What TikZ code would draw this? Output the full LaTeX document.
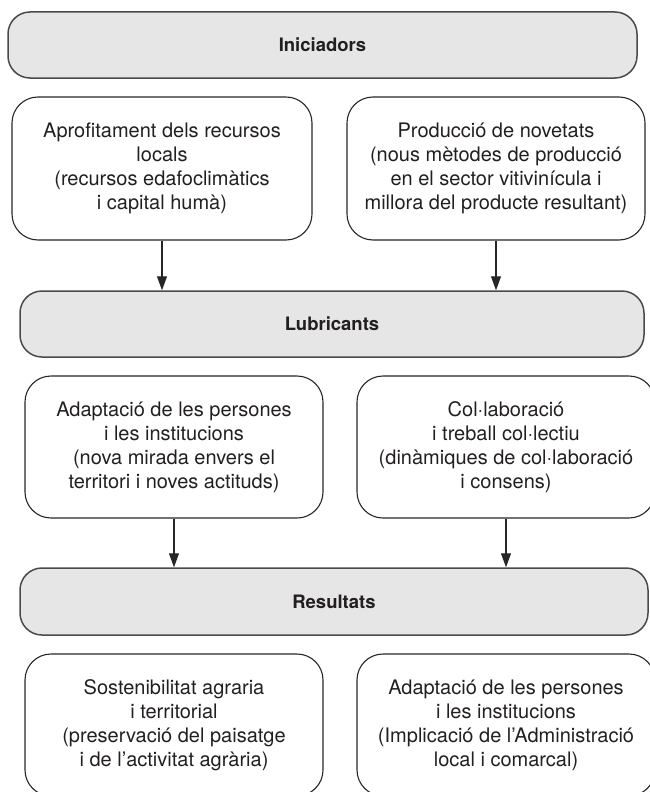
\documentclass[tikz,border=0pt]{standalone}
\usepackage{fontspec}
\setmainfont{TeX Gyre Heros}
\usetikzlibrary{arrows.meta}
\definecolor{headfill}{HTML}{E6E6E6}
\definecolor{headedge}{HTML}{4A4A4A}
\definecolor{textink}{HTML}{231F20}

\begin{document}
\begin{tikzpicture}[x=1pt,y=-1pt,
    header/.style={draw=headedge, line width=1.5pt, fill=headfill, rounded corners=22pt,
        minimum height=66pt, inner sep=0pt, text=textink,
        font=\fontsize{18.5}{22}\selectfont\bfseries},
    itembox/.style={draw=black!85, line width=1.1pt, rounded corners=26pt,
        minimum width=298pt, minimum height=143pt, inner sep=0pt, align=center,
        text=textink, font=\fontsize{20}{24}\selectfont},
    flow/.style={draw=black!85, line width=1.1pt, -{Triangle[length=14pt,width=10pt]}}]
    \useasboundingbox (0,0) rectangle (650,792);
    % Iniciadors
    \node[header, minimum width=629pt] (ini) at (322.5,45) {Iniciadors};
    \node[itembox, minimum width=300pt] (ini-l) at (162,168.5)
        {Aprofitament dels recursos\\locals\\(recursos edafoclimàtics\\i capital humà)};
    \node[itembox] (ini-r) at (496,168.5)
        {Producció de novetats\\(nous mètodes de producció\\en el sector vitivinícula i\\millora del producte resultant)};
    % Lubricants
    \node[header, minimum width=624pt] (lub) at (332,324) {Lubricants};
    \node[itembox, minimum height=142pt] (lub-l) at (174,447)
        {Adaptació de les persones\\i les institucions\\(nova mirada envers el\\territori i noves actituds)};
    \node[itembox, minimum height=142pt] (lub-r) at (506,447)
        {Col·laboració\\i treball col·lectiu\\(dinàmiques de col·laboració\\i consens)};
    % Resultats
    \node[header, minimum width=628pt, minimum height=67pt] (res) at (334,601.5) {Resultats};
    \node[itembox, minimum height=142pt] (res-l) at (174,725)
        {Sostenibilitat agraria\\i territorial\\(preservació del paisatge\\i de l’activitat agrària)};
    \node[itembox, minimum height=142pt] (res-r) at (506,725)
        {Adaptació de les persones\\i les institucions\\(Implicació de l’Administració\\local i comarcal)};
    % connectors
    \draw[flow] (ini-l) -- (ini-l |- lub.north);
    \draw[flow] (ini-r) -- (ini-r |- lub.north);
    \draw[flow] (lub-l) -- (lub-l |- res.north);
    \draw[flow] (lub-r) -- (lub-r |- res.north);
\end{tikzpicture}
\end{document}
